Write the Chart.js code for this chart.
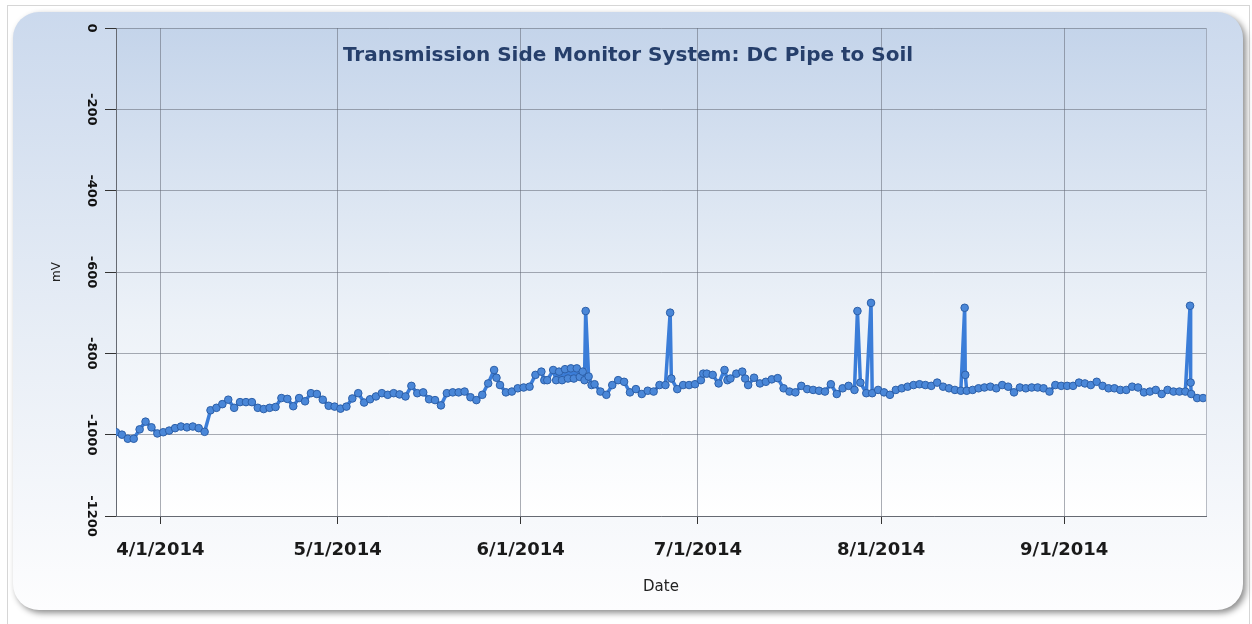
<!DOCTYPE html>
<html>
<head>
<meta charset="utf-8">
<title>DC Pipe to Soil</title>
<script src="https://cdn.jsdelivr.net/npm/chart.js@4.4.1/dist/chart.umd.min.js"></script>
<style>
  html, body { margin: 0; padding: 0; background: #fff; }
  #wrap { width: 1252px; height: 624px; }
</style>
</head>
<body>
<div id="wrap"><canvas id="p2sChart" width="1252" height="624"></canvas></div>
<script>
// days are counted from 4/1/2014 00:00
const chartTitle = 'Transmission Side Monitor System: DC Pipe to Soil';
const firstDay = -7.5;   // 3/24/2014, one reading per day after that

const dailyMv = [
  -994, -1000, -1010, -1010, -987, -968, -982, -997, -994, -990, -984, -980, -982, -980, -984, -993,
  -940, -934, -925, -914, -934, -920, -920, -920, -934, -937, -934, -932, -910, -912, -930, -910, -918, -898, -900, -914,
  -929, -931, -936, -931, -911, -898, -921, -913, -906, -898, -902, -898, -901, -906, -880, -898, -896, -913, -915, -928,
  -898, -896, -896, -894, -908, -915, -902, -874, -841, -878, -896, -894, -886, -884, -882, -853,
  -845, -866, -841, -845, -839, -837, -837, -845,
  -857, -876, -894, -902, -878, -866, -870, -896, -888, -900, -892, -894, -878, -878, -862,
  -888, -878, -878, -876, -866, -850, -853, -874, -841, -862, -850, -845, -878, -860, -874,
  -870, -864, -861, -886, -894, -896, -880, -888, -890, -892, -894, -876, -900, -886, -880, -890, -872, -898,
  -898, -890, -896, -902, -890, -886, -882, -878, -876, -878, -880, -872, -882, -886, -890, -892,
  -892, -890, -886, -884, -882, -886, -878, -882, -896, -884, -886, -884, -884, -886, -894, -878,
  -880, -880, -880, -872, -874, -878, -870, -880, -886, -886, -890, -890, -882, -884, -896, -894,
  -890, -900, -890, -894, -894, -894, -900, -910, -910
];

// extra readings taken between the daily ones (incl. the spikes)
const extraDays = [56.9, 65, 67, 68, 69, 70, 71, 71.8, 72, 73, 86.3, 91.9, 96, 99, 118, 120.3, 136.15, 136.25, 174.3, 174.4];
const extraMv   = [-860, -866, -866, -866, -862, -862, -858, -866, -696, -878, -700, -850, -866, -862, -696, -676, -688, -853, -683, -872];

const tickDays   = [0, 30, 61, 91, 122, 153];
const tickLabels = ['4/1/2014', '5/1/2014', '6/1/2014', '7/1/2014', '8/1/2014', '9/1/2014'];

const points = dailyMv.map((v, i) => ({ x: firstDay + i, y: v }))
  .concat(extraDays.map((d, i) => ({ x: d, y: extraMv[i] })))
  .sort((a, b) => a.x - b.x);

const panelBg = {
  id: 'panelBg',
  beforeDraw(chart) {
    const { ctx, chartArea: a, width, height } = chart;
    ctx.save();
    ctx.fillStyle = '#ffffff';
    ctx.fillRect(0, 0, width, height);
    ctx.strokeStyle = '#d6d6d6';
    ctx.lineWidth = 1;
    ctx.strokeRect(7.5, 5.5, width - 10, height);

    ctx.shadowColor = 'rgba(0,0,0,0.45)';
    ctx.shadowBlur = 6;
    ctx.shadowOffsetX = 3;
    ctx.shadowOffsetY = 3;
    const g = ctx.createLinearGradient(0, 12, 0, 610);
    g.addColorStop(0, '#cbd9ed');
    g.addColorStop(0.55, '#e8eef6');
    g.addColorStop(1, '#fdfdfe');
    ctx.fillStyle = g;
    ctx.beginPath();
    ctx.roundRect(13, 12, 1230, 598, 26);
    ctx.fill();
    ctx.shadowColor = 'transparent';

    const g2 = ctx.createLinearGradient(0, a.top, 0, a.bottom);
    g2.addColorStop(0, '#c4d4ea');
    g2.addColorStop(0.6, '#edf2f8');
    g2.addColorStop(1, '#ffffff');
    ctx.fillStyle = g2;
    ctx.fillRect(a.left, a.top, a.right - a.left, a.bottom - a.top);
    ctx.restore();
  },
  beforeDatasetsDraw(chart) {
    const { ctx, chartArea: a } = chart;
    ctx.save();
    ctx.strokeStyle = 'rgba(110,116,128,0.45)';
    ctx.lineWidth = 1;
    ctx.beginPath();
    ctx.moveTo(a.right + 0.5, a.top);
    ctx.lineTo(a.right + 0.5, a.bottom);
    ctx.stroke();
    ctx.restore();
  }
};

const overlayText = {
  id: 'overlayText',
  afterDraw(chart) {
    const { ctx } = chart;
    const yScale = chart.scales.y;
    ctx.save();
    ctx.textAlign = 'center';
    ctx.textBaseline = 'middle';
    ctx.font = 'bold 13px "DejaVu Sans"';
    ctx.fillStyle = '#111111';
    yScale.ticks.forEach(t => {
      const py = yScale.getPixelForValue(t.value);
      ctx.save();
      ctx.translate(91, py);
      ctx.rotate(Math.PI / 2);
      ctx.fillText(String(t.value), 0, 0);
      ctx.restore();
    });
    ctx.font = 'bold 20px "DejaVu Sans"';
    ctx.fillStyle = '#263f6b';
    ctx.fillText(chartTitle, 628, 56);
    ctx.restore();
  }
};

Chart.defaults.font.family = '"DejaVu Sans", sans-serif';

const ctx = document.getElementById('p2sChart').getContext('2d');
const p2sChart = new Chart(ctx, {
  type: 'line',
  data: {
    datasets: [{
      label: 'DC Pipe to Soil',
      data: points,
      borderColor: '#3b7dd8',
      borderWidth: 3.5,
      borderJoinStyle: 'round',
      borderCapStyle: 'round',
      pointRadius: 3.8,
      pointBackgroundColor: '#4a87d8',
      pointBorderColor: '#2c5fa8',
      pointBorderWidth: 1,
      tension: 0
    }]
  },
  options: {
    responsive: false,
    animation: false,
    devicePixelRatio: 1,
    layout: { padding: { left: 0, right: 46, top: 28, bottom: 0 } },
    plugins: {
      legend: { display: false },
      tooltip: { enabled: false }
    },
    scales: {
      x: {
        type: 'linear',
        min: -7.5,
        max: 177,
        afterBuildTicks: s => { s.ticks = tickDays.map(v => ({ value: v })); },
        afterFit: s => { s.height = 108; },
        ticks: {
          autoSkip: false,
          maxRotation: 0,
          padding: 16,
          color: '#1a1a1a',
          font: { size: 18, weight: 'bold' },
          callback: v => tickLabels[tickDays.indexOf(v)]
        },
        grid: { color: 'rgba(100,106,118,0.55)', tickLength: 8, tickColor: '#333333' },
        border: { color: '#666a72' },
        title: { display: true, text: 'Date', color: '#222222', font: { size: 15 }, padding: { top: 4, bottom: 28 } }
      },
      y: {
        min: -1200,
        max: 0,
        afterFit: s => { s.width = 116; },
        ticks: { stepSize: 200, display: false },
        grid: { color: 'rgba(100,106,118,0.55)', tickLength: 11, tickColor: '#333333' },
        border: { color: '#666a72' },
        title: { display: true, text: 'mV', color: '#222222', font: { size: 12 }, padding: { top: 50, bottom: 0 } }
      }
    }
  },
  plugins: [panelBg, overlayText]
});
</script>
</body>
</html>
